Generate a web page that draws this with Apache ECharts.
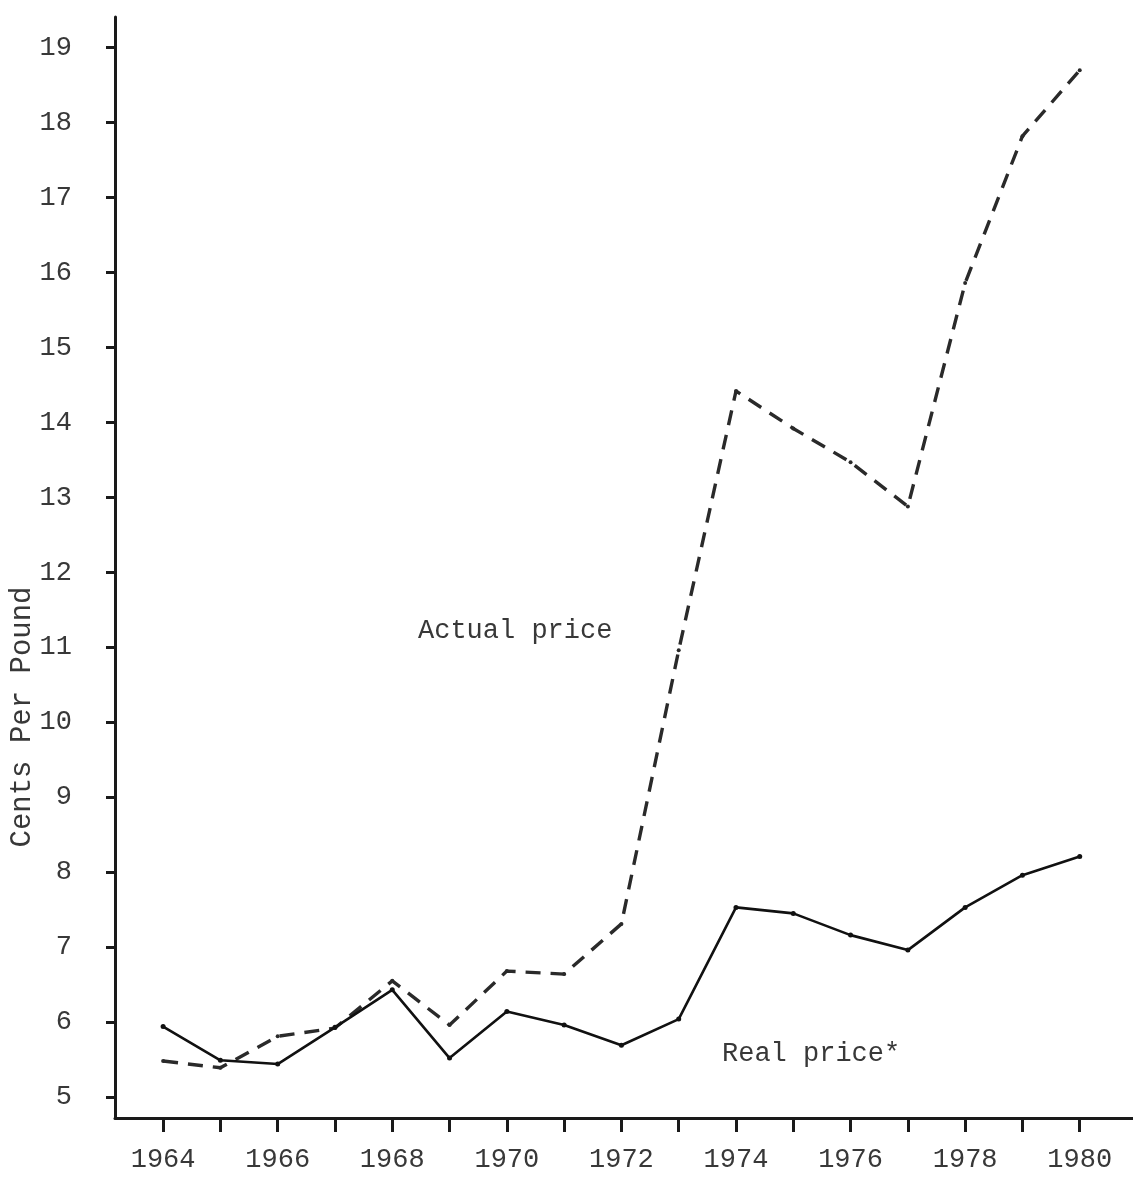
<!DOCTYPE html>
<html>
<head>
<meta charset="utf-8">
<script src="https://cdn.jsdelivr.net/npm/echarts@6/dist/echarts.min.js"></script>
<style>
  html, body { margin: 0; padding: 0; background: #fff; }
  #main { width: 1133px; height: 1183px; }
</style>
</head>
<body>
<div id="main"></div>
<script>
// data (cents per pound)
const years = [1964, 1965, 1966, 1967, 1968, 1969, 1970, 1971, 1972,
  1973, 1974, 1975, 1976, 1977, 1978, 1979, 1980];
const actualPrice = [5.48, 5.39, 5.81, 5.92, 6.55, 5.96, 6.68, 6.64, 7.31,
  10.96, 14.42, 13.92, 13.47, 12.88, 15.86, 17.82, 18.70];
const realPrice = [5.94, 5.49, 5.44, 5.93, 6.43, 5.52, 6.14, 5.96, 5.69,
  6.04, 7.53, 7.45, 7.16, 6.96, 7.53, 7.96, 8.21];
const yTicks = [5, 6, 7, 8, 9, 10, 11, 12, 13, 14, 15, 16, 17, 18, 19];
const xLabels = [1964, 1966, 1968, 1970, 1972, 1974, 1976, 1978, 1980];

const font = "'Liberation Mono', 'DejaVu Sans Mono', monospace";
const ink = "#1a1a1a";
const textInk = "#383838";

const chartDom = document.getElementById("main");
const myChart = echarts.init(chartDom);

const option = {
  animation: false,
  backgroundColor: "#fff",
  grid: { left: 115, right: 0, top: 17, bottom: 65, outerBoundsMode: "none" },
  xAxis: {
    type: "value",
    min: 1963.16,
    max: 1980.93,
    splitLine: { show: false },
    axisLine: { show: true, lineStyle: { color: ink, width: 3 } },
    axisTick: {
      show: true,
      customValues: years,
      length: 14,
      lineStyle: { color: ink, width: 3 },
    },
    axisLabel: {
      customValues: xLabels,
      margin: 28,
      fontFamily: font,
      fontSize: 27,
      color: textInk,
      formatter: (v) => String(v),
    },
  },
  yAxis: {
    type: "value",
    min: 4.72,
    max: 19.41,
    splitLine: { show: false },
    axisLine: { show: true, lineStyle: { color: ink, width: 3 } },
    axisTick: {
      show: true,
      customValues: yTicks,
      length: 9,
      lineStyle: { color: ink, width: 3 },
    },
    axisLabel: {
      customValues: yTicks,
      margin: 43,
      fontFamily: font,
      fontSize: 27,
      color: textInk,
    },
  },
  series: [
    {
      name: "Actual price",
      type: "line",
      data: years.map((y, i) => [y, actualPrice[i]]),
      symbol: "circle",
      symbolSize: 4,
      itemStyle: { color: "#2a2a2a" },
      lineStyle: { color: "#2a2a2a", width: 3.4, type: [15, 10] },
    },
    {
      name: "Real price",
      type: "line",
      data: years.map((y, i) => [y, realPrice[i]]),
      symbol: "circle",
      symbolSize: 5,
      itemStyle: { color: "#111" },
      lineStyle: { color: "#111", width: 2.6 },
    },
  ],
  graphic: [
    {
      // y axis title, placed lower than the axis middle as in the original
      type: "text",
      x: 22,
      y: 717,
      rotation: Math.PI / 2,
      style: {
        text: "Cents Per Pound",
        font: "29px " + font,
        fill: textInk,
        align: "center",
        verticalAlign: "middle",
      },
    },
    {
      type: "text",
      left: 418,
      top: 617,
      style: { text: "Actual price", font: "27px " + font, fill: textInk },
    },
    {
      type: "text",
      left: 722,
      top: 1040,
      style: { text: "Real price*", font: "27px " + font, fill: textInk },
    },
  ],
};

myChart.setOption(option);
</script>
</body>
</html>
